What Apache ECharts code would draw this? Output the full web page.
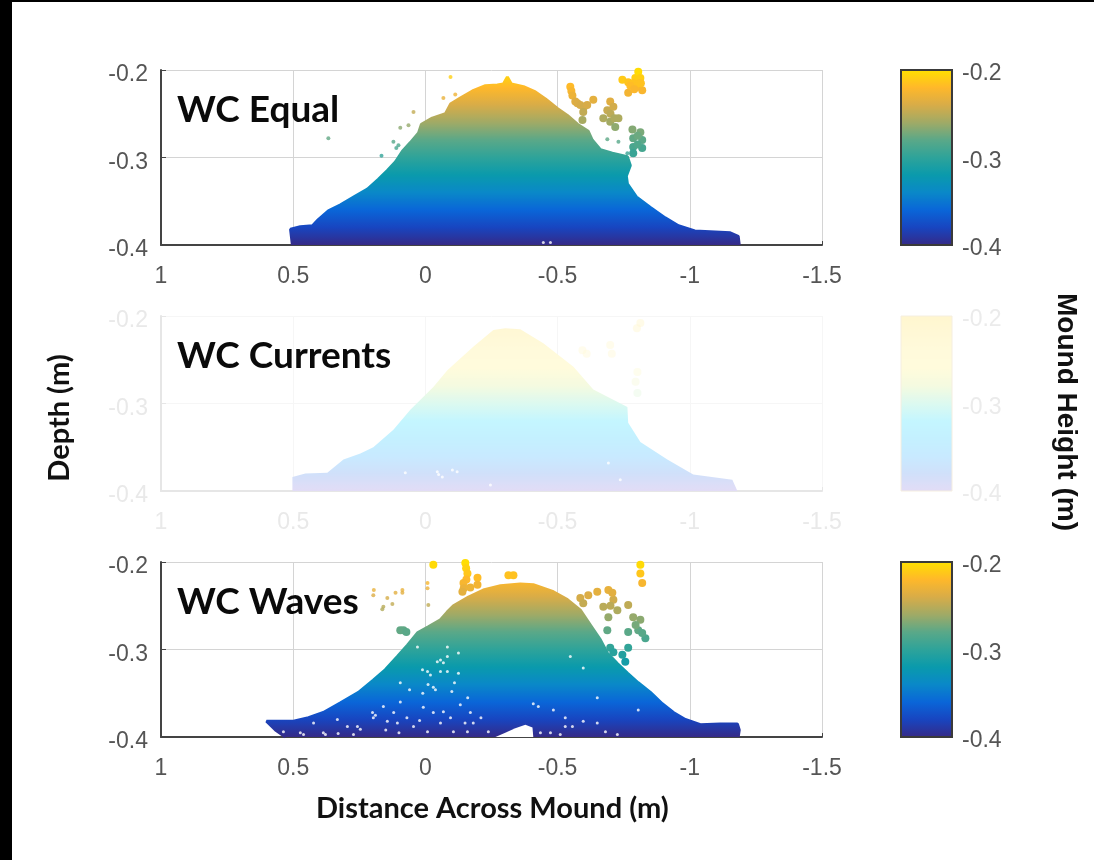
<!DOCTYPE html>
<html>
<head>
<meta charset="utf-8">
<style>html,body{margin:0;padding:0;background:#fff}#c{width:1094px;height:860px}</style>
<script src="https://cdn.jsdelivr.net/npm/echarts@6/dist/echarts.min.js"></script>
</head>
<body>
<div id="c"></div>
<script>
const panelTitles = ['WC Equal', 'WC Currents', 'WC Waves'];
const xLabel = 'Distance Across Mound (m)';
const yLabel = 'Depth (m)';
const barLabel = 'Mound Height (m)';

const equalProfile = [[0.503,-0.400],[0.510,-0.382],[0.473,-0.379],[0.427,-0.378],[0.405,-0.371],[0.367,-0.361],[0.321,-0.354],[0.265,-0.344],[0.219,-0.336],[0.178,-0.325],[0.144,-0.315],[0.113,-0.305],[0.087,-0.293],[0.057,-0.283],[0.026,-0.272],[0.015,-0.262],[-0.026,-0.255],[-0.076,-0.250],[-0.095,-0.239],[-0.132,-0.232],[-0.178,-0.224],[-0.227,-0.218],[-0.272,-0.217],[-0.295,-0.216],[-0.310,-0.208],[-0.325,-0.216],[-0.371,-0.219],[-0.416,-0.225],[-0.454,-0.233],[-0.499,-0.244],[-0.537,-0.252],[-0.575,-0.262],[-0.616,-0.270],[-0.631,-0.280],[-0.662,-0.291],[-0.707,-0.295],[-0.764,-0.299],[-0.775,-0.309],[-0.760,-0.321],[-0.764,-0.330],[-0.798,-0.345],[-0.851,-0.357],[-0.907,-0.369],[-0.957,-0.378],[-1.019,-0.384],[-1.096,-0.385],[-1.153,-0.386],[-1.183,-0.390],[-1.187,-0.400]];
const equalBlobs = [[-0.745,-0.211],[-0.767,-0.214],[-0.794,-0.209],[-0.805,-0.202],[-0.813,-0.209],[-0.802,-0.219],[-0.767,-0.226],[-0.820,-0.223],[-0.786,-0.215],[-0.809,-0.215],[-0.775,-0.218],[-0.790,-0.222],[-0.815,-0.215],[-0.548,-0.219],[-0.552,-0.224],[-0.556,-0.229],[-0.567,-0.236],[-0.575,-0.238],[-0.586,-0.240],[-0.600,-0.242],[-0.612,-0.240],[-0.635,-0.234],[-0.597,-0.248],[-0.594,-0.257],[-0.699,-0.236],[-0.688,-0.246],[-0.711,-0.242],[-0.673,-0.255],[-0.699,-0.259],[-0.700,-0.250],[-0.715,-0.255],[-0.730,-0.255],[-0.718,-0.265],[-0.783,-0.268],[-0.813,-0.271],[-0.786,-0.278],[-0.820,-0.280],[-0.786,-0.288],[-0.820,-0.289],[-0.786,-0.295],[-0.803,-0.275],[-0.803,-0.285]];
const equalFine = [[-0.688,-0.279],[-0.730,-0.282],[-0.764,-0.295],[0.367,-0.278],[0.166,-0.298],[0.121,-0.282],[0.102,-0.286],[0.110,-0.289],[0.095,-0.266],[0.064,-0.263],[0.045,-0.248],[-0.068,-0.232],[-0.095,-0.208],[-0.113,-0.228]];
const equalGaps = [[-0.446,-0.397],[-0.473,-0.397]];

const currentsProfile = [[0.503,-0.400],[0.503,-0.384],[0.454,-0.380],[0.371,-0.379],[0.310,-0.364],[0.246,-0.357],[0.197,-0.350],[0.121,-0.330],[0.057,-0.307],[-0.030,-0.281],[-0.083,-0.262],[-0.181,-0.235],[-0.257,-0.216],[-0.302,-0.214],[-0.359,-0.215],[-0.446,-0.231],[-0.560,-0.258],[-0.635,-0.284],[-0.764,-0.304],[-0.767,-0.322],[-0.813,-0.344],[-0.915,-0.364],[-1.013,-0.381],[-1.161,-0.387],[-1.180,-0.400]];
const currentsBlobs = [[-0.813,-0.208],[-0.800,-0.214],[-0.699,-0.233],[-0.705,-0.243],[-0.594,-0.239],[-0.610,-0.243],[-0.802,-0.264],[-0.795,-0.275],[-0.802,-0.288]];
const currentsFine = [];
const currentsGaps = [[-0.045,-0.378],[-0.064,-0.384],[0.076,-0.379],[-0.102,-0.376],[-0.737,-0.387],[-0.246,-0.393],[-0.692,-0.368],[-0.050,-0.381],[-0.120,-0.378]];

const wavesProfile = [[0.529,-0.400],[0.567,-0.392],[0.601,-0.382],[0.548,-0.382],[0.499,-0.382],[0.442,-0.378],[0.386,-0.372],[0.321,-0.361],[0.253,-0.349],[0.197,-0.335],[0.151,-0.323],[0.106,-0.308],[0.068,-0.295],[0.030,-0.281],[-0.011,-0.274],[-0.057,-0.266],[-0.083,-0.257],[-0.106,-0.250],[-0.163,-0.240],[-0.219,-0.232],[-0.284,-0.227],[-0.359,-0.225],[-0.408,-0.226],[-0.484,-0.234],[-0.537,-0.243],[-0.586,-0.255],[-0.624,-0.272],[-0.662,-0.289],[-0.688,-0.304],[-0.726,-0.316],[-0.764,-0.327],[-0.805,-0.338],[-0.851,-0.349],[-0.896,-0.362],[-0.938,-0.372],[-0.983,-0.380],[-1.040,-0.386],[-1.115,-0.385],[-1.180,-0.385],[-1.187,-0.392],[-1.183,-0.400]];
const wavesBlobs = [[-0.030,-0.203],[-0.151,-0.201],[-0.154,-0.207],[-0.159,-0.213],[-0.155,-0.220],[-0.144,-0.224],[-0.145,-0.230],[-0.140,-0.234],[-0.170,-0.229],[-0.197,-0.218],[-0.197,-0.226],[-0.314,-0.215],[-0.333,-0.215],[-0.813,-0.203],[-0.813,-0.213],[-0.820,-0.224],[-0.586,-0.241],[-0.616,-0.238],[-0.597,-0.247],[-0.650,-0.234],[-0.692,-0.232],[-0.711,-0.243],[-0.673,-0.251],[-0.726,-0.255],[-0.692,-0.263],[-0.707,-0.235],[-0.700,-0.250],[-0.688,-0.278],[-0.767,-0.249],[-0.786,-0.263],[-0.813,-0.266],[-0.805,-0.278],[-0.767,-0.280],[-0.832,-0.287],[-0.820,-0.281],[-0.795,-0.272],[-0.699,-0.298],[-0.767,-0.298],[-0.745,-0.306],[-0.756,-0.314],[-0.711,-0.303],[0.083,-0.278],[0.095,-0.278],[0.072,-0.280]];
const wavesFine = [[-0.008,-0.224],[-0.008,-0.230],[-0.011,-0.249],[0.197,-0.238],[0.159,-0.251],[0.144,-0.241],[0.113,-0.235],[0.087,-0.232],[0.087,-0.235],[0.163,-0.254],[0.195,-0.232],[0.125,-0.248]];
const wavesGaps = [[-0.057,-0.312],[-0.083,-0.308],[-0.045,-0.314],[-0.068,-0.315],[-0.008,-0.325],[-0.019,-0.329],[0.011,-0.323],[-0.057,-0.325],[-0.083,-0.325],[-0.038,-0.346],[-0.030,-0.343],[0.095,-0.338],[-0.125,-0.327],[-0.083,-0.297],[0.030,-0.297],[-0.125,-0.304],[0.197,-0.378],[0.144,-0.382],[0.257,-0.388],[0.386,-0.395],[0.473,-0.395],[0.423,-0.384],[0.295,-0.388],[0.106,-0.384],[0.045,-0.388],[-0.008,-0.394],[-0.057,-0.384],[-0.106,-0.394],[-0.159,-0.394],[-0.170,-0.372],[0.008,-0.366],[0.095,-0.360],[0.159,-0.365],[-0.132,-0.363],[-0.068,-0.371],[-0.181,-0.384],[-0.238,-0.394],[0.272,-0.397],[0.200,-0.372],[-0.408,-0.362],[-0.427,-0.365],[-0.484,-0.369],[-0.529,-0.378],[-0.529,-0.388],[-0.650,-0.384],[-0.597,-0.382],[-0.435,-0.395],[-0.473,-0.395],[-0.510,-0.397],[-0.597,-0.321],[-0.548,-0.308],[-0.650,-0.355],[-0.805,-0.369],[-0.726,-0.397],[-0.681,-0.394],[-0.556,-0.388],[0.537,-0.394],[0.461,-0.397],[0.378,-0.397],[0.333,-0.380],[0.246,-0.391],[0.189,-0.375],[0.120,-0.372],[0.070,-0.378],[0.022,-0.381],[-0.030,-0.372],[-0.095,-0.378],[-0.150,-0.384],[-0.210,-0.378],[0.010,-0.350],[-0.100,-0.348],[0.060,-0.346],[-0.160,-0.355],[0.150,-0.392],[0.330,-0.396],[0.100,-0.395],[-0.010,-0.340],[-0.110,-0.338]];
const wavesNotch = [[-0.265,-0.400],[-0.302,-0.395],[-0.340,-0.390],[-0.378,-0.386],[-0.405,-0.389],[-0.408,-0.400]];

const colorbarTop = [[0,-0.2],[1,-0.2]];
const strongColors = ['#352a87','#1845c0','#0a66d8','#0a88c8','#0a9aac','#2ea39a','#5aa888','#a0aa66','#d8ac48','#ffb82a','#ffe000'];
const fadedColors = ['#e2dcf6','#d0e0fa','#c8eaff','#c4f0ff','#c4f6ff','#dcf9f0','#f4fae0','#fffbdc','#fffadb','#fff8d6','#fff6cf'];

const panels = [
  {top:70,  profile:equalProfile,    blobs:equalBlobs,    fine:equalFine,    gaps:equalGaps,    notch:null,       colors:strongColors, faded:false},
  {top:316, profile:currentsProfile, blobs:currentsBlobs, fine:currentsFine, gaps:currentsGaps, notch:null,       colors:fadedColors,  faded:true},
  {top:562, profile:wavesProfile,    blobs:wavesBlobs,    fine:wavesFine,    gaps:wavesGaps,    notch:wavesNotch, colors:strongColors, faded:false}
];

const grid=[], xAxis=[], yAxis=[], series=[], visualMap=[], graphic=[];
const sans='"Liberation Sans",Arial,sans-serif', bold='Lato,sans-serif';

panels.forEach((p,i)=>{
  const strong=!p.faded;
  const labelColor = strong?'#555':'#e9e9e9';
  const axisColor = strong?'#444':'#e6e6e6';
  const gridColor = strong?'#d4d4d4':'#f6f6f6';
  grid.push({left:161,width:661,top:p.top,height:175,show:false});
  xAxis.push({gridIndex:i,type:'value',inverse:true,min:-1.5,max:1,interval:0.5,
    axisLine:{show:true,onZero:false,lineStyle:{color:axisColor,width:2}},
    axisTick:{show:true,inside:true,length:4,lineStyle:{color:axisColor}},
    axisLabel:{color:labelColor,fontSize:23,fontFamily:sans,margin:20,hideOverlap:false,showMinLabel:true,showMaxLabel:true},
    splitLine:{show:true,lineStyle:{color:gridColor,width:1}}});
  yAxis.push({gridIndex:i,type:'value',min:-0.4,max:-0.2,interval:0.1,
    axisLine:{show:true,onZero:false,lineStyle:{color:axisColor,width:2}},
    axisTick:{show:true,inside:true,length:5,lineStyle:{color:axisColor}},
    axisLabel:{color:labelColor,fontSize:23,fontFamily:sans,margin:13,verticalAlign:'top',lineHeight:10,showMinLabel:true,showMaxLabel:true,formatter:v=>v.toFixed(1)},
    splitLine:{show:true,lineStyle:{color:gridColor,width:1}}});
});
panels.forEach((p,i)=>{
  const strong=!p.faded;
  const labelColor = strong?'#555':'#ebebeb';
  grid.push({left:901,width:51,top:p.top,height:175,show:true,z:5,backgroundColor:'transparent',
    borderWidth:strong?2:1,borderColor:strong?'#3a3a3a':'#f5eee0'});
  xAxis.push({gridIndex:3+i,type:'value',min:0,max:1,show:false});
  yAxis.push({gridIndex:3+i,type:'value',position:'right',min:-0.4,max:-0.2,interval:0.1,
    axisLine:{show:false},axisTick:{show:false},splitLine:{show:false},
    axisLabel:{color:labelColor,fontSize:23,fontFamily:sans,margin:10,verticalAlign:'top',lineHeight:8,showMinLabel:true,showMaxLabel:true,formatter:v=>v.toFixed(1)}});
});

panels.forEach((p,i)=>{
  const idx=[];
  idx.push(series.length);
  series.push({type:'line',xAxisIndex:i,yAxisIndex:i,data:p.profile,showSymbol:false,silent:true,z:2,
    lineStyle:{width:p.faded?0:3},areaStyle:{origin:'start',opacity:1}});
  idx.push(series.length);
  series.push({type:'scatter',xAxisIndex:i,yAxisIndex:i,data:p.blobs,symbolSize:8,silent:true,z:3,clip:false,
    itemStyle:{opacity:p.faded?0.5:1}});
  idx.push(series.length);
  series.push({type:'scatter',xAxisIndex:i,yAxisIndex:i,data:p.fine,symbolSize:4,silent:true,z:3,clip:false});
  idx.push(series.length);
  series.push({type:'line',xAxisIndex:3+i,yAxisIndex:3+i,data:colorbarTop,showSymbol:false,silent:true,z:2,
    lineStyle:{width:0},areaStyle:{origin:'start',opacity:1}});
  visualMap.push({type:'continuous',show:false,dimension:1,min:-0.4,max:-0.2,seriesIndex:idx,inRange:{color:p.colors}});
  series.push({type:'scatter',xAxisIndex:i,yAxisIndex:i,data:p.gaps,symbolSize:3,silent:true,z:4,itemStyle:{color:'#fff'}});
  if(p.notch){
    series.push({type:'line',xAxisIndex:i,yAxisIndex:i,data:p.notch,showSymbol:false,silent:true,z:4,
      lineStyle:{width:0},itemStyle:{color:'#fff'},areaStyle:{origin:'start',opacity:1,color:'#fff'}});
  }
  graphic.push({type:'text',left:177,top:p.top+22,z:20,silent:true,
    style:{text:panelTitles[i],fill:'#0a0a0a',font:'bold 37px '+bold}});
});

graphic.push({type:'rect',left:0,top:0,z:30,silent:true,shape:{width:12,height:860},style:{fill:'#000'}});
graphic.push({type:'rect',left:0,top:0,z:30,silent:true,shape:{width:1094,height:2},style:{fill:'#000'}});
graphic.push({type:'text',left:316,top:794,z:20,silent:true,style:{text:xLabel,fill:'#111',font:'bold 29px '+bold}});
graphic.push({type:'text',x:60,y:418,rotation:Math.PI/2,z:20,silent:true,
  style:{text:yLabel,fill:'#111',font:'bold 29px '+bold,align:'center',verticalAlign:'middle'}});
graphic.push({type:'text',x:1066,y:412,rotation:-Math.PI/2,z:20,silent:true,
  style:{text:barLabel,fill:'#111',font:'bold 28px '+sans,align:'center',verticalAlign:'middle'}});

const chart=echarts.init(document.getElementById('c'),null,{renderer:'canvas',width:1094,height:860});
chart.setOption({animation:false,backgroundColor:'#fff',grid,xAxis,yAxis,series,visualMap,graphic});
</script>
</body>
</html>
